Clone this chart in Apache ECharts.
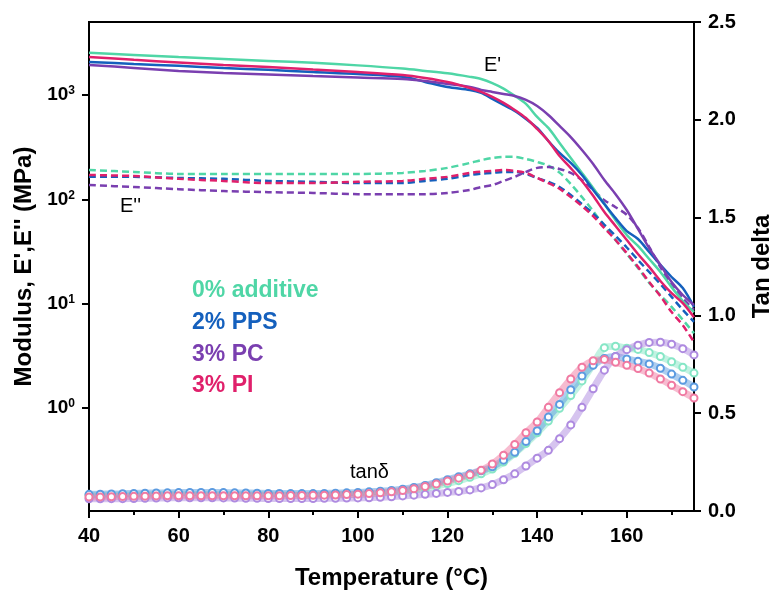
<!DOCTYPE html>
<html>
<head>
<meta charset="utf-8">
<script src="https://cdn.jsdelivr.net/npm/echarts@6.0.0/dist/echarts.min.js"></script>
<style>
  html, body { margin: 0; padding: 0; background: #fff; }
  #chart { width: 778px; height: 600px; }
</style>
</head>
<body>
<div id="chart"></div>
<script>
// temperature grid for E' / E'' curves (°C)
var tempMod = [40, 50, 60, 70, 80, 90, 100, 110, 115, 120,
  125, 127.5, 130, 132.5, 135, 137.5, 140, 142.5, 145, 147.5,
  150, 152.5, 155, 157.5, 160, 162.5, 165, 167.5, 170, 172.5, 175];

// storage modulus E' (MPa)
var storage0 = [2530, 2420, 2310, 2210, 2120, 2030, 1920, 1790, 1700, 1610,
  1490, 1420, 1300, 1150, 980, 820, 615, 483, 347, 249,
  179, 128, 90, 63, 45.5, 35.7, 26.8, 20.1, 14.4, 10.6, 8.3];
var storagePPS = [2070, 1980, 1900, 1815, 1740, 1660, 1590, 1490, 1333, 1194,
  1117, 1045, 916, 802, 703, 589, 483, 362, 278, 223,
  171, 123, 90, 66, 49.6, 41.6, 31.3, 23.5, 18.0, 14.1, 9.3];
var storagePC = [1940, 1815, 1700, 1625, 1573, 1520, 1470, 1423, 1360, 1274,
  1194, 1117, 1069, 1022, 978, 896, 784, 643, 505, 395,
  297, 218, 153, 112, 79, 52, 34, 23.5, 16.1, 12.1, 9.7];
var storagePI = [2310, 2170, 2050, 1940, 1850, 1750, 1660, 1555, 1456, 1333,
  1167, 1069, 957, 838, 718, 601, 472, 362, 260, 199,
  150, 108, 75.5, 55.5, 40.7, 29.9, 22.5, 16.5, 12.6, 10.1, 7.4];

// loss modulus E'' (MPa)
var loss0 = [191, 183, 175, 175, 175, 175, 175, 179, 187, 200,
  223, 237, 249, 255, 255, 243, 228, 210, 180, 140,
  105, 77, 55.5, 40.6, 30, 22, 15.8, 12.1, 9.3, 7.0, 5.2];
var lossPPS = [164, 164, 160, 157, 150, 147, 143, 143, 150, 157,
  171, 176, 179, 183, 183, 175, 160, 147, 131, 110,
  90, 73, 57, 44.5, 34.5, 26.2, 20.1, 15.4, 11.6, 8.7, 6.7];
var lossPC = [137, 131, 125, 120, 117, 115, 112, 112, 112, 115,
  123, 131, 137, 150, 164, 183, 200, 204, 195, 179,
  153, 123, 98, 84, 71, 53, 35, 22.4, 15.1, 11.3, 8.7];
var lossPI = [171, 167, 157, 150, 143, 143, 147, 150, 157, 164,
  179, 184, 187, 191, 187, 179, 160, 143, 126, 105,
  86, 69, 53, 40.7, 30.5, 22.5, 16.1, 11.8, 8.3, 6.2, 4.3];

// temperature grid for tan delta
var tempTan = [40, 42.5, 45, 47.5, 50, 52.5, 55, 57.5, 60, 62.5,
  65, 67.5, 70, 72.5, 75, 77.5, 80, 82.5, 85, 87.5,
  90, 92.5, 95, 97.5, 100, 102.5, 105, 107.5, 110, 112.5,
  115, 117.5, 120, 122.5, 125, 127.5, 130, 132.5, 135, 137.5,
  140, 142.5, 145, 147.5, 150, 152.5, 155, 157.5, 160, 162.5,
  165, 167.5, 170, 172.5, 175];

var tan0 = [0.080, 0.080, 0.081, 0.082, 0.082, 0.083, 0.084, 0.085, 0.085, 0.085,
  0.085, 0.085, 0.085, 0.084, 0.084, 0.083, 0.083, 0.082, 0.082, 0.082,
  0.082, 0.082, 0.083, 0.084, 0.085, 0.087, 0.090, 0.094, 0.100, 0.107,
  0.116, 0.127, 0.140, 0.155, 0.172, 0.190, 0.215, 0.250, 0.295, 0.345,
  0.400, 0.460, 0.525, 0.590, 0.665, 0.750, 0.835, 0.842, 0.832, 0.826,
  0.810, 0.790, 0.763, 0.735, 0.705];
var tanPPS = [0.085, 0.086, 0.087, 0.088, 0.090, 0.091, 0.092, 0.093, 0.094, 0.095,
  0.095, 0.095, 0.094, 0.093, 0.092, 0.091, 0.090, 0.090, 0.089, 0.089,
  0.089, 0.090, 0.091, 0.093, 0.095, 0.098, 0.101, 0.105, 0.111, 0.120,
  0.131, 0.145, 0.160, 0.175, 0.190, 0.206, 0.226, 0.260, 0.300, 0.355,
  0.410, 0.480, 0.545, 0.620, 0.690, 0.745, 0.780, 0.790, 0.777, 0.765,
  0.752, 0.730, 0.700, 0.668, 0.634];
var tanPC = [0.062, 0.062, 0.063, 0.063, 0.064, 0.065, 0.066, 0.067, 0.068, 0.068,
  0.068, 0.068, 0.067, 0.066, 0.065, 0.065, 0.064, 0.064, 0.064, 0.064,
  0.064, 0.065, 0.065, 0.066, 0.067, 0.068, 0.070, 0.073, 0.077, 0.081,
  0.085, 0.090, 0.095, 0.100, 0.108, 0.118, 0.135, 0.160, 0.190, 0.230,
  0.270, 0.310, 0.370, 0.440, 0.530, 0.625, 0.720, 0.790, 0.825, 0.848,
  0.862, 0.863, 0.853, 0.830, 0.798];
var tanPI = [0.072, 0.072, 0.073, 0.074, 0.075, 0.076, 0.077, 0.078, 0.078, 0.078,
  0.078, 0.078, 0.078, 0.078, 0.078, 0.078, 0.078, 0.078, 0.079, 0.079,
  0.080, 0.081, 0.082, 0.084, 0.086, 0.089, 0.093, 0.098, 0.105, 0.114,
  0.125, 0.138, 0.153, 0.168, 0.185, 0.208, 0.240, 0.285, 0.340, 0.400,
  0.455, 0.530, 0.605, 0.675, 0.735, 0.768, 0.775, 0.760, 0.745, 0.728,
  0.705, 0.675, 0.643, 0.610, 0.578];

// ticks
var xMajorTicks = [40, 60, 80, 100, 120, 140, 160];
var xMinorTicks = [50, 70, 90, 110, 130, 150, 170];
var modTicks = [1, 10, 100, 1000];

var names = ["0% additive", "2% PPS", "3% PC", "3% PI"];
var colors = ["#4fd6a6", "#1560bd", "#7a3fb0", "#e0206b"];
var lightColors = ["#86e6c6", "#5c9be0", "#ae8ae0", "#f07aa2"];

var FONT = "'Liberation Sans', Arial, sans-serif";

function pairs(xs, ys) {
  return xs.map(function (x, i) { return [x, ys[i]]; });
}

var storage = [storage0, storagePPS, storagePC, storagePI];
var loss = [loss0, lossPPS, lossPC, lossPI];
var tans = [tan0, tanPPS, tanPC, tanPI];

var series = [];
// tan delta: hollow circle chains
tans.forEach(function (d, i) {
  series.push({
    name: names[i] + " tan", type: "line", yAxisIndex: 1, smooth: 0.3,
    data: pairs(tempTan, d),
    symbol: "emptyCircle", symbolSize: 7, showAllSymbol: true,
    itemStyle: { color: lightColors[i], borderWidth: 1 },
    lineStyle: { color: lightColors[i], width: 7, opacity: 0.5 },
    silent: true, z: 1
  });
});
// E'' dashed
loss.forEach(function (d, i) {
  series.push({
    name: names[i] + " E''", type: "line", smooth: 0.3,
    data: pairs(tempMod, d), symbol: "none",
    lineStyle: { color: colors[i], width: 2.5, type: [7, 4] }, z: 2
  });
});
// E' solid
storage.forEach(function (d, i) {
  series.push({
    name: names[i] + " E'", type: "line", smooth: 0.3,
    data: pairs(tempMod, d), symbol: "none",
    lineStyle: { color: colors[i], width: 2.5 }, z: 3
  });
});

var labelTexts = names.map(function (n, i) {
  return {
    type: "text", x: 192, y: 291 + i * 31.7,
    style: { text: n, font: "bold 23px " + FONT, fill: colors[i],
      textAlign: "left", textVerticalAlign: "middle", align: "left", verticalAlign: "middle" }
  };
});

function note(text, x, y) {
  return {
    type: "text", x: x, y: y,
    style: { text: text, font: "20px " + FONT, fill: "#000",
      textAlign: "left", textVerticalAlign: "middle", align: "left", verticalAlign: "middle" }
  };
}

var chart = echarts.init(document.getElementById("chart"));
chart.setOption({
  animation: false,
  backgroundColor: "#fff",
  grid: { left: 89, right: 84, top: 22, bottom: 89, show: true, containLabel: false,
    outerBoundsMode: "none",
    borderColor: "#000", borderWidth: 2, backgroundColor: "transparent" },
  xAxis: [
    {
      type: "value", min: 40, max: 175, interval: 20,
      name: "Temperature (°C)", nameLocation: "middle", nameGap: 55,
      nameTextStyle: { fontFamily: FONT, fontWeight: "bold", fontSize: 24, color: "#000" },
      axisLine: { lineStyle: { color: "#000", width: 2 } },
      axisTick: { customValues: xMajorTicks, length: 7, lineStyle: { color: "#000", width: 2 } },
      axisLabel: { customValues: xMajorTicks, margin: 15, fontFamily: FONT, fontWeight: "bold",
        fontSize: 20, color: "#000" },
      splitLine: { show: false }
    },
    {
      type: "value", min: 40, max: 175, interval: 10, position: "bottom",
      axisLine: { show: false },
      axisTick: { customValues: xMinorTicks, length: 4, lineStyle: { color: "#000", width: 2 } },
      axisLabel: { show: false },
      splitLine: { show: false }
    }
  ],
  yAxis: [
    {
      type: "log", logBase: 10, min: 0.103, max: 5000, position: "left",
      name: "Modulus, E',E'' (MPa)", nameLocation: "middle", nameGap: 52, nameRotate: 90,
      nameTextStyle: { fontFamily: FONT, fontWeight: "bold", fontSize: 24, color: "#000" },
      axisLine: { show: true, lineStyle: { color: "#000", width: 2 } },
      axisTick: { show: true, customValues: modTicks, length: 7, lineStyle: { color: "#000", width: 2 } },
      axisLabel: {
        customValues: modTicks, margin: 14, color: "#000",
        formatter: function (v) {
          return "10{sup|" + Math.round(Math.log10(v)) + "}";
        },
        fontFamily: FONT, fontWeight: "bold", fontSize: 19,
        rich: { sup: { fontFamily: FONT, fontWeight: "bold", fontSize: 12, color: "#000",
          verticalAlign: "top", padding: [0, 0, 8, 0] } }
      },
      splitLine: { show: false }
    },
    {
      type: "value", min: 0, max: 2.5, interval: 0.5, position: "right",
      name: "Tan delta", nameLocation: "middle", nameGap: 56, nameRotate: 90,
      nameTextStyle: { fontFamily: FONT, fontWeight: "bold", fontSize: 24, color: "#000" },
      axisLine: { show: true, lineStyle: { color: "#000", width: 2 } },
      axisTick: { show: true, length: 7, lineStyle: { color: "#000", width: 2 } },
      axisLabel: { margin: 14, fontFamily: FONT, fontWeight: "bold", fontSize: 20, color: "#000",
        formatter: function (v) { return v.toFixed(1); } },
      splitLine: { show: false }
    }
  ],
  graphic: labelTexts.concat([
    note("E'", 484, 65),
    note("E''", 120, 206),
    note("tanδ", 350, 472)
  ]),
  series: series
});
</script>
</body>
</html>
